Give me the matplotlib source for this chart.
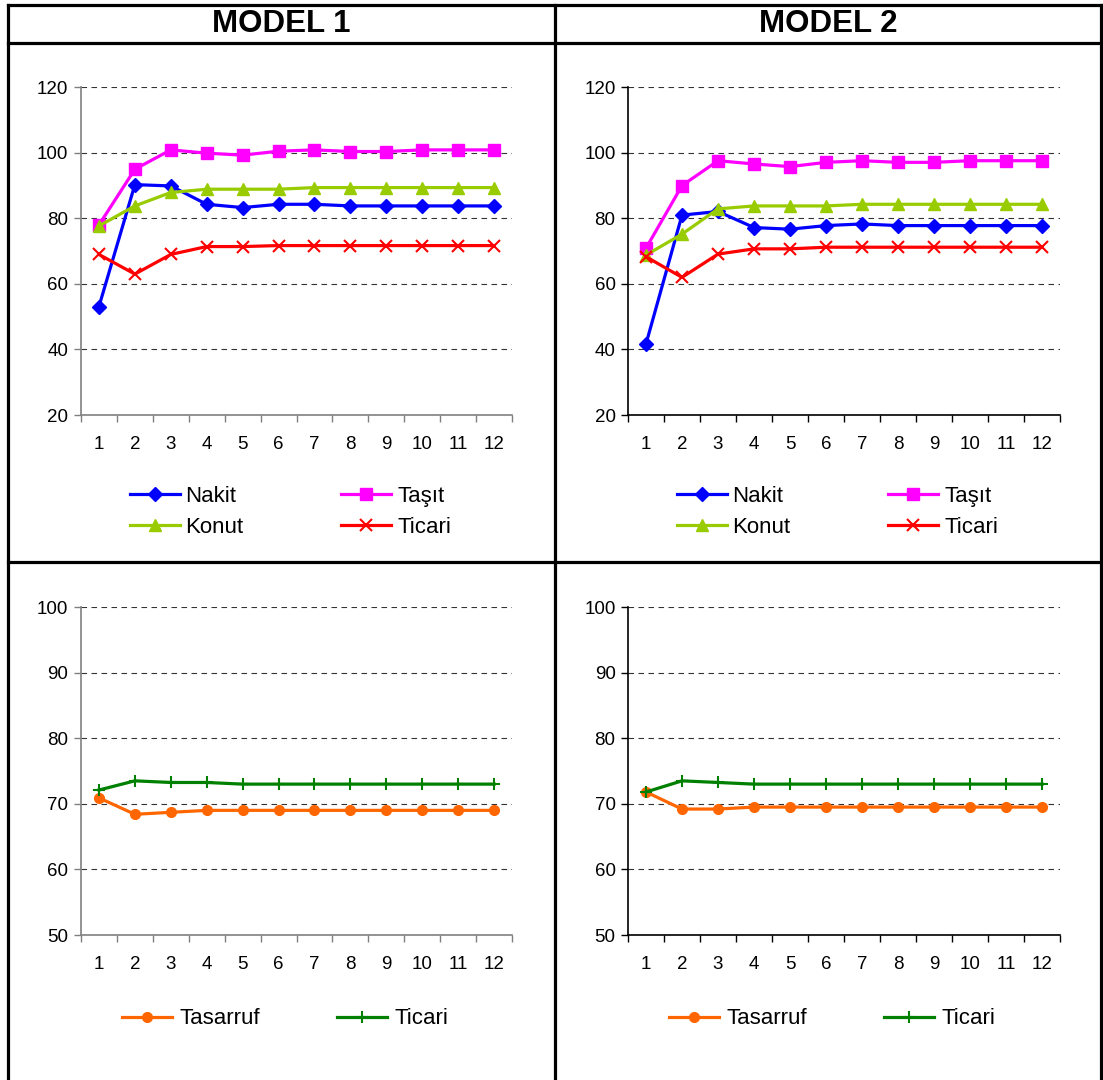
import matplotlib.pyplot as plt
from matplotlib.lines import Line2D

plt.rcParams["font.family"] = ["Liberation Sans", "DejaVu Sans"]

periods = list(range(1, 13))

# Model 1, top chart
m1_nakit = [53.1, 90.3, 89.9, 84.3, 83.3, 84.3, 84.3, 83.8, 83.8, 83.8, 83.8, 83.8]
m1_tasit = [78.0, 95.0, 100.9, 99.9, 99.3, 100.5, 100.9, 100.4, 100.4, 100.9, 100.9, 100.9]
m1_konut = [77.7, 83.8, 87.9, 88.9, 88.9, 88.9, 89.4, 89.4, 89.4, 89.4, 89.4, 89.4]
m1_ticari = [69.0, 63.0, 69.0, 71.4, 71.4, 71.7, 71.7, 71.7, 71.7, 71.7, 71.7, 71.7]

# Model 2, top chart
m2_nakit = [41.7, 81.0, 82.1, 77.2, 76.7, 77.8, 78.3, 77.8, 77.8, 77.8, 77.8, 77.8]
m2_tasit = [70.9, 90.0, 97.6, 96.6, 95.8, 97.1, 97.6, 97.1, 97.1, 97.6, 97.6, 97.6]
m2_konut = [68.8, 75.2, 82.9, 83.8, 83.8, 83.8, 84.3, 84.3, 84.3, 84.3, 84.3, 84.3]
m2_ticari = [68.3, 62.0, 69.1, 70.7, 70.7, 71.2, 71.2, 71.2, 71.2, 71.2, 71.2, 71.2]

# Bottom charts
m1_tasarruf = [70.9, 68.4, 68.7, 69.0, 69.0, 69.0, 69.0, 69.0, 69.0, 69.0, 69.0, 69.0]
m1_ticari_b = [72.1, 73.5, 73.25, 73.25, 73.0, 73.0, 73.0, 73.0, 73.0, 73.0, 73.0, 73.0]
m2_tasarruf = [71.8, 69.2, 69.2, 69.5, 69.5, 69.5, 69.5, 69.5, 69.5, 69.5, 69.5, 69.5]
m2_ticari_b = [71.8, 73.5, 73.25, 73.0, 73.0, 73.0, 73.0, 73.0, 73.0, 73.0, 73.0, 73.0]

headers = ["MODEL 1", "MODEL 2"]
top_ticks = [20, 40, 60, 80, 100, 120]
bottom_ticks = [50, 60, 70, 80, 90, 100]

W, H = 1103, 1080
fig = plt.figure(figsize=(W / 100, H / 100), dpi=100, facecolor="white")


def px_axes(x0, x1, y_top, y_bot):
    return fig.add_axes([x0 / W, 1 - y_bot / H, (x1 - x0) / W, (y_bot - y_top) / H])


def style_axes(ax, yticks, axis_color):
    n = len(periods)
    ax.set_xlim(-0.5, n - 0.5)
    ax.set_ylim(yticks[0], yticks[-1])
    ax.set_xticks(range(n))
    ax.set_xticklabels([str(p) for p in periods])
    ax.set_xticks([i - 0.5 for i in range(n + 1)], minor=True)
    ax.tick_params(axis="x", which="major", length=0, pad=15, labelsize=13.5)
    ax.tick_params(axis="x", which="minor", length=5, width=1, color=axis_color,
                   direction="out")
    ax.set_yticks(yticks)
    ax.tick_params(axis="y", length=5, width=1, color=axis_color, pad=4,
                   labelsize=13.5)
    for side in ("top", "right"):
        ax.spines[side].set_visible(False)
    for side in ("left", "bottom"):
        ax.spines[side].set_color(axis_color)
        ax.spines[side].set_linewidth(1.2)
    ax.yaxis.grid(True, color="#333333", linestyle=(0, (5, 4)), linewidth=0.8)
    ax.set_axisbelow(True)


def draw_top(ax, nakit, tasit, konut, ticari, legend_x):
    x = range(len(periods))
    h1, = ax.plot(x, nakit, color="#0000FF", lw=2.3, marker="D", ms=7,
                  label="Nakit", clip_on=False)
    h2, = ax.plot(x, tasit, color="#FF00FF", lw=2.3, marker="s", ms=8,
                  label="Taşıt", clip_on=False)
    h3, = ax.plot(x, konut, color="#99CC00", lw=2.3, marker="^", ms=9,
                  label="Konut", clip_on=False)
    h4, = ax.plot(x, ticari, color="#FF0000", lw=2.3, marker="x", ms=9,
                  mew=1.5, label="Ticari", clip_on=False)
    # ordering gives rows (Nakit, Taşıt) / (Konut, Ticari)
    ax.legend(handles=[h1, h3, h2, h4], ncol=2, frameon=False, fontsize=16,
              loc="center left", bbox_to_anchor=(legend_x / W, 1 - 512 / H),
              bbox_transform=fig.transFigure, handlelength=2.25,
              handletextpad=0.25, columnspacing=4.4, labelspacing=0.45,
              borderpad=0, borderaxespad=0)


def draw_bottom(ax, tasarruf, ticari, legend_x):
    x = range(len(periods))
    h1, = ax.plot(x, tasarruf, color="#FF6600", lw=2.3, marker="o", ms=7,
                  label="Tasarruf", clip_on=False)
    h2, = ax.plot(x, ticari, color="#008000", lw=2.3, marker="+", ms=9,
                  mew=1.5, label="Ticari", clip_on=False)
    ax.legend(handles=[h1, h2], ncol=2, frameon=False, fontsize=16,
              loc="center left", bbox_to_anchor=(legend_x / W, 1 - 1019 / H),
              bbox_transform=fig.transFigure, handlelength=2.25,
              handletextpad=0.35, columnspacing=3.45, borderpad=0,
              borderaxespad=0)


columns = [
    (81, 512, "#808080", 130, (m1_nakit, m1_tasit, m1_konut, m1_ticari),
     (m1_tasarruf, m1_ticari_b), 122),
    (628, 1060, "#000000", 677, (m2_nakit, m2_tasit, m2_konut, m2_ticari),
     (m2_tasarruf, m2_ticari_b), 669),
]

for x0, x1, color, lx_top, top_series, bottom_series, lx_bot in columns:
    ax_top = px_axes(x0, x1, 87.3, 415)
    style_axes(ax_top, top_ticks, color)
    draw_top(ax_top, *top_series, lx_top)

    ax_bot = px_axes(x0, x1, 607, 935)
    style_axes(ax_bot, bottom_ticks, color)
    draw_bottom(ax_bot, *bottom_series, lx_bot)

# table frame around the four panels
table_lw = 2.3
frame = [
    ((8, 1101), (5, 5)),
    ((8, 1101), (43, 43)),
    ((8, 1101), (562, 562)),
    ((8, 8), (5, 1080)),
    ((555, 555), (5, 1080)),
    ((1101, 1101), (5, 1080)),
]
for xs, ys in frame:
    fig.add_artist(Line2D([x / W for x in xs], [1 - y / H for y in ys],
                          color="black", lw=table_lw,
                          transform=fig.transFigure))

for text, cx in zip(headers, [281.5, 828]):
    fig.text(cx / W, 1 - 24 / H, text, ha="center", va="center",
             fontsize=22.5, fontweight="bold")

fig.savefig("out.png", dpi=100, facecolor="white")
